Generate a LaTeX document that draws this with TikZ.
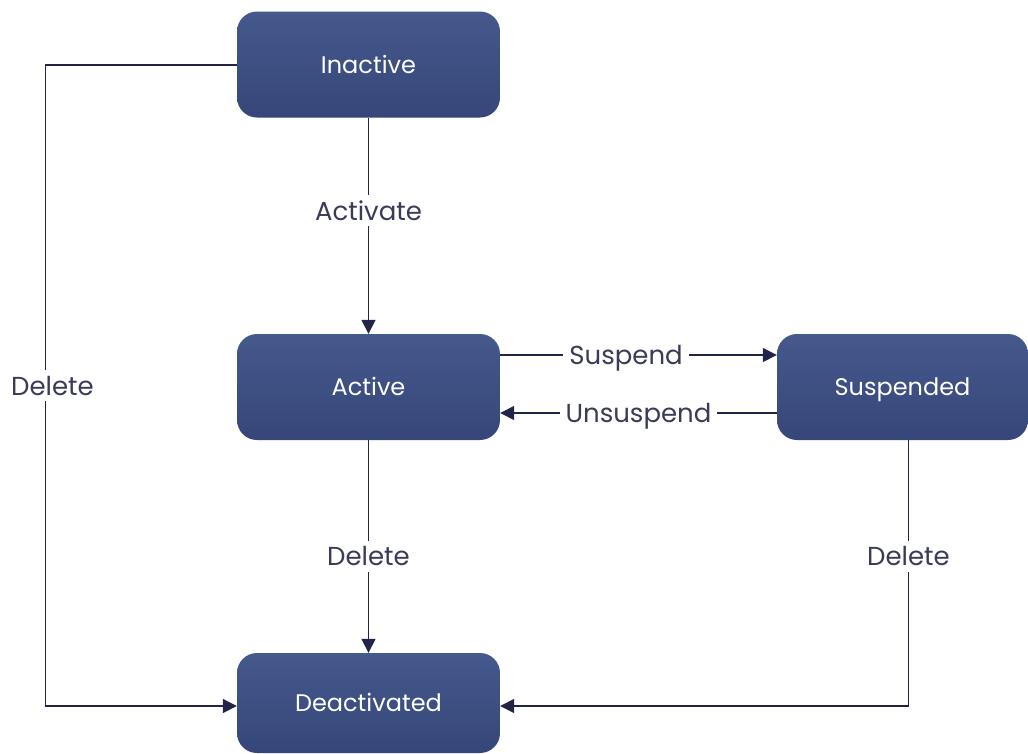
\documentclass[tikz,border=0pt]{standalone}
\usepackage{fontspec}
\setmainfont{Poppins}
\usetikzlibrary{arrows.meta,positioning}

\definecolor{boxtop}{HTML}{46598C}
\definecolor{boxbot}{HTML}{364679}
\definecolor{linkcol}{HTML}{22244A}
\definecolor{labelcol}{HTML}{3A3B58}

\tikzset{
  statebox/.style={rounded corners=20pt, top color=boxtop, bottom color=boxbot,
    draw=none, text=white, font=\fontsize{24}{28}\selectfont,
    text height=17pt, text depth=0pt,
    minimum width=263pt, minimum height=106pt, inner sep=0pt},
  link/.style={draw=linkcol, line width=1.5pt},
  arr/.style={link, -{Triangle[length=14pt,width=14pt]}},
  lbl/.style={fill=white, text=labelcol, font=\fontsize{26}{30}\selectfont,
    text height=19pt, text depth=0pt, inner sep=6pt}
}

\begin{document}
\begin{tikzpicture}[x=1pt, y=-1pt]
      \useasboundingbox (0,0) rectangle (1028,753);

      % Zustände
      \node[statebox] (inactive) at (368.5,64.5) {Inactive};
      \node[statebox] (active) at (368.5,387) {Active};
      \node[statebox, minimum width=251pt] (suspended) at (902.5,387) {Suspended};
      \node[statebox, minimum height=100pt] (deact) at (368.5,703) {Deactivated};

      % Hilfspunkte
      \coordinate (lefttop) at (45.5,65);
      \coordinate (leftbot) at (45.5,706);
      \coordinate (rightbot) at (908.5,706);

      % Übergänge
      \draw[arr] (inactive.south) -- node[lbl, pos=0.43]{Activate} (active.north);
      \draw[arr] (active.east |- 0,355) -- node[lbl, pos=0.455]{Suspend} (suspended.west |- 0,355);
      \draw[arr] (suspended.west |- 0,413) -- node[lbl, pos=0.5]{Unsuspend} (active.east |- 0,413);
      \draw[arr] (active.south) -- node[lbl, pos=0.545]{Delete} (deact.north);
      \draw[arr] (suspended.south -| rightbot) -- node[lbl, pos=0.436]{Delete} (rightbot) -- (deact.east |- rightbot);
      \draw[arr] (inactive.west |- lefttop) -- (lefttop) -- node[lbl, pos=0.5, xshift=7pt]{Delete} (leftbot) -- (deact.west |- leftbot);
    \end{tikzpicture}
\end{document}
